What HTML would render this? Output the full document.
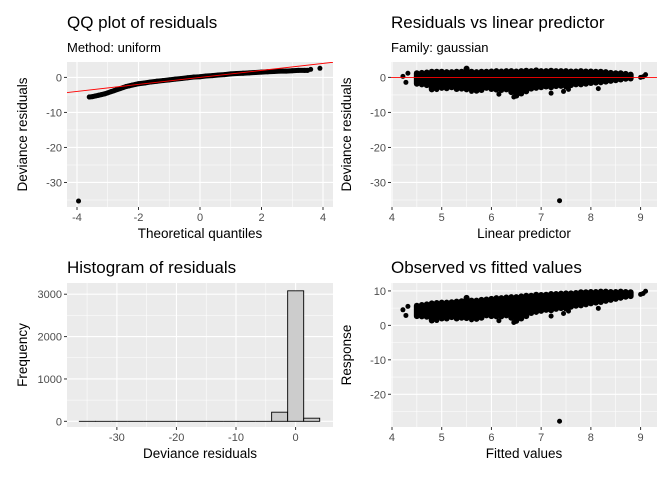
<!DOCTYPE html>
<html><head><meta charset="utf-8"><style>
body{margin:0;background:#fff}
svg{display:block;font-family:"Liberation Sans",Arial,sans-serif}
</style></head><body>
<svg id="c" width="672" height="480" viewBox="0 0 672 480"></svg>
<script>
// QQ data
const qqTheo=[-3.6,-3.5,-3.4,-3.3,-3.2,-3.1,-3.0,-2.9,-2.8,-2.7,-2.6,-2.5,-2.4,-2.3,-2.2,-2.1,-2.0,-1.8,-1.6,-1.4,-1.2,-1.0,-0.8,-0.6,-0.4,-0.2,0,0.2,0.4,0.6,0.8,1.0,1.2,1.4,1.6,1.8,2.0,2.2,2.4,2.6,2.8,3.0,3.2,3.4,3.5];
const qqResid=[-5.6,-5.5,-5.3,-5.1,-4.9,-4.7,-4.4,-4.1,-3.8,-3.5,-3.2,-2.9,-2.6,-2.4,-2.2,-2.0,-1.8,-1.6,-1.3,-1.1,-0.9,-0.7,-0.5,-0.3,-0.1,0.1,0.2,0.4,0.5,0.7,0.8,1.0,1.1,1.2,1.3,1.4,1.5,1.6,1.7,1.8,1.8,1.9,2.0,2.0,2.0];
const qqExtraTheo=[-3.95,3.6,3.9];
const qqExtraResid=[-35.3,2.3,2.6];
// Linear predictor band data
const lp=[4.5,4.6,4.7,4.8,4.9,5.0,5.1,5.2,5.3,5.4,5.5,5.6,5.7,5.8,5.9,6.0,6.1,6.2,6.3,6.4,6.5,6.6,6.7,6.8,6.9,7.0,7.1,7.2,7.3,7.4,7.5,7.6,7.7,7.8,7.9,8.0,8.1,8.2,8.3,8.4,8.5,8.6,8.7,8.8];
const residHi=[1.2,1.3,1.4,1.6,1.6,1.6,1.5,1.5,1.6,1.6,2.5,1.6,1.5,1.6,1.6,1.7,1.8,1.7,1.8,1.8,1.7,1.8,1.9,1.8,2.0,1.8,1.8,1.9,1.8,1.8,1.8,1.7,1.7,1.8,1.7,1.7,1.6,1.6,1.5,1.3,1.2,1.2,1.0,0.8];
const residLo=[-1.8,-2.0,-2.2,-3.4,-2.6,-3.0,-3.1,-2.8,-3.3,-3.2,-3.4,-3.4,-3.8,-3.6,-3.0,-3.3,-3.5,-3.6,-3.4,-4.2,-5.2,-4.6,-4.0,-3.2,-3.0,-2.8,-2.6,-2.8,-2.5,-2.4,-2.6,-2.2,-2.0,-2.0,-1.8,-1.6,-1.5,-1.4,-1.2,-1.0,-0.8,-0.6,-0.4,-0.3];
const extraLp=[4.22,4.28,4.32,9.0,9.05,9.1,7.37,7.2,7.45,8.15,6.45,6.15,5.6,4.9,7.55];
const extraResid=[0.3,-1.4,1.2,0.0,0.2,0.8,-35.2,-4.5,-4.0,-3.2,-5.6,-4.8,-4.0,-3.5,-3.4];
// Histogram data
const binStart=-36.3, binWidth=2.69;
const binCounts=[1,0,0,0,0,0,0,0,0,0,0,0,215,3080,75];

const svg=document.getElementById('c');
const NS='http://www.w3.org/2000/svg';
function mk(tag,attrs,parent){const e=document.createElementNS(NS,tag);for(const k in attrs)e.setAttribute(k,attrs[k]);(parent||svg).appendChild(e);return e;}
function txt(s,attrs,parent){const e=mk('text',attrs,parent);e.textContent=s;return e;}

function panel(o){
  const g=mk('g',{});
  
  
  const sx=v=>o.x0+(v-o.xd[0])/(o.xd[1]-o.xd[0])*(o.x1-o.x0);
  const sy=v=>o.y1-(v-o.yd[0])/(o.yd[1]-o.yd[0])*(o.y1-o.y0);
  const bg=mk('rect',{x:o.x0,y:o.y0,width:o.x1-o.x0,height:o.y1-o.y0,fill:'#ebebeb'},g);
  
  
  o.xminor.forEach(v=>mk('line',{x1:sx(v),x2:sx(v),y1:o.y0,y2:o.y1,stroke:'#fff','stroke-width':0.55},g));
  o.yminor.forEach(v=>mk('line',{y1:sy(v),y2:sy(v),x1:o.x0,x2:o.x1,stroke:'#fff','stroke-width':0.55},g));
  o.xt.forEach(v=>{
    mk('line',{x1:sx(v),x2:sx(v),y1:o.y0,y2:o.y1,stroke:'#fff','stroke-width':1.1},g);
    mk('line',{x1:sx(v),x2:sx(v),y1:o.y1,y2:o.y1+3,stroke:'#333','stroke-width':1},g);
    const t=txt(String(v),{x:sx(v),y:o.y1+14,'text-anchor':'middle','font-size':11,fill:'#4d4d4d'},g);
    
    
  });
  o.yt.forEach(v=>{
    mk('line',{y1:sy(v),y2:sy(v),x1:o.x0,x2:o.x1,stroke:'#fff','stroke-width':1.1},g);
    mk('line',{y1:sy(v),y2:sy(v),x1:o.x0-3,x2:o.x0,stroke:'#333','stroke-width':1},g);
    const t=txt(String(v),{x:o.x0-5,y:sy(v)+4,'text-anchor':'end','font-size':11,fill:'#4d4d4d'},g);
    
    
  });
  const tt=txt(o.title,{x:o.tx,y:o.ty,'font-size':17,fill:'#000'},g);
  
  
  if(o.sub){const st=txt(o.sub,{x:o.tx,y:o.ty+24,'font-size':13,fill:'#000'},g);
    
    }
  const xt=txt(o.xlab,{x:(o.x0+o.x1)/2,y:o.y1+31,'text-anchor':'middle','font-size':13.5,fill:'#000'},g);
  
  
  const yx=o.ylx, yy=(o.y0+o.y1)/2;
  const yt=txt(o.ylab,{x:yx,y:yy,'text-anchor':'middle','font-size':13.5,fill:'#000',transform:`rotate(-90 ${yx} ${yy})`},g);
  
  
  const clip='clip'+o.name;
  const cp=mk('clipPath',{id:clip},g);mk('rect',{x:o.x0,y:o.y0,width:o.x1-o.x0,height:o.y1-o.y0},cp);
  const pg=mk('g',{'clip-path':`url(#${clip})`},g);
  return {sx,sy,g:pg};
}

// Panel 1: QQ
(function(){
  const p=panel({name:'qq-plot',x0:67,x1:333,y0:62,y1:207,xd:[-4.325,4.325],yd:[-37.0,4.4],
    xt:[-4,-2,0,2,4],xminor:[-3,-1,1,3],yt:[0,-10,-20,-30],yminor:[-5,-15,-25,-35],
    title:'QQ plot of residuals',sub:'Method: uniform',tx:67,ty:28,xlab:'Theoretical quantiles',ylab:'Deviance residuals',ylx:27});
  const pts=qqTheo.map((q,i)=>p.sx(q)+','+p.sy(qqResid[i])).join(' ');
  const pl=mk('polyline',{points:pts,fill:'none',stroke:'#000','stroke-width':5,'stroke-linecap':'round','stroke-linejoin':'round'},p.g);
  
  
  qqTheo.forEach((q,i)=>{const c=mk('circle',{cx:p.sx(q),cy:p.sy(qqResid[i]),r:2.5,fill:'#000'},p.g);
    
    });
  qqExtraTheo.forEach((q,i)=>{const c=mk('circle',{cx:p.sx(q),cy:p.sy(qqExtraResid[i]),r:2.5,fill:'#000'},p.g);
    
    });
  const rl=mk('line',{x1:p.sx(-5),y1:p.sy(-5),x2:p.sx(5),y2:p.sy(5),stroke:'#ff0000','stroke-width':0.9},p.g);
  
  
})();

// Panel 2: residuals vs lp
(function(){
  const p=panel({name:'residuals-vs-predictor',x0:391,x1:657,y0:62,y1:207,xd:[3.98,9.33],yd:[-37.0,4.4],
    xt:[4,5,6,7,8,9],xminor:[4.5,5.5,6.5,7.5,8.5],yt:[0,-10,-20,-30],yminor:[-5,-15,-25,-35],
    title:'Residuals vs linear predictor',sub:'Family: gaussian',tx:391,ty:28,xlab:'Linear predictor',ylab:'Deviance residuals',ylx:351});
  lp.forEach((v,i)=>{const l=mk('line',{x1:p.sx(v),x2:p.sx(v),y1:p.sy(residHi[i]),y2:p.sy(residLo[i]),stroke:'#000','stroke-width':6,'stroke-linecap':'round'},p.g);
    
    });
  extraLp.forEach((v,i)=>{const c=mk('circle',{cx:p.sx(v),cy:p.sy(extraResid[i]),r:2.5,fill:'#000'},p.g);
    
    });
  const hl=mk('line',{x1:391,x2:657,y1:p.sy(0),y2:p.sy(0),stroke:'#ff0000','stroke-width':0.9},p.g);
  
  
})();

// Panel 3: histogram
(function(){
  const p=panel({name:'histogram',x0:67,x1:333,y0:283,y1:427,xd:[-38.37,6.28],yd:[-134,3265],
    xt:[-30,-20,-10,0],xminor:[-35,-25,-15,-5],yt:[0,1000,2000,3000],yminor:[500,1500,2500],
    title:'Histogram of residuals',tx:67,ty:273,xlab:'Deviance residuals',ylab:'Frequency',ylx:27});
  binCounts.forEach((c,i)=>{
    const a=binStart+i*binWidth,b=a+binWidth;
    const d=`M${p.sx(a)},${p.sy(0)} V${p.sy(c)} H${p.sx(b)} V${p.sy(0)} Z`;
    const r=mk('path',{d:d,fill:'#cccccc',stroke:'#000','stroke-width':0.9},p.g);
    
    
  });
})();

// Panel 4: observed vs fitted
(function(){
  const p=panel({name:'observed-vs-fitted',x0:391,x1:657,y0:283,y1:427,xd:[3.98,9.33],yd:[-29.5,12.3],
    xt:[4,5,6,7,8,9],xminor:[4.5,5.5,6.5,7.5,8.5],yt:[10,0,-10,-20],yminor:[5,-5,-15,-25],
    title:'Observed vs fitted values',tx:391,ty:273,xlab:'Fitted values',ylab:'Response',ylx:351});
  lp.forEach((v,i)=>{const l=mk('line',{x1:p.sx(v),x2:p.sx(v),y1:p.sy(v+residHi[i]),y2:p.sy(v+residLo[i]),stroke:'#000','stroke-width':6,'stroke-linecap':'round'},p.g);
    
    });
  extraLp.forEach((v,i)=>{const c=mk('circle',{cx:p.sx(v),cy:p.sy(v+extraResid[i]),r:2.5,fill:'#000'},p.g);
    
    });
})();
</script>
</body></html>
